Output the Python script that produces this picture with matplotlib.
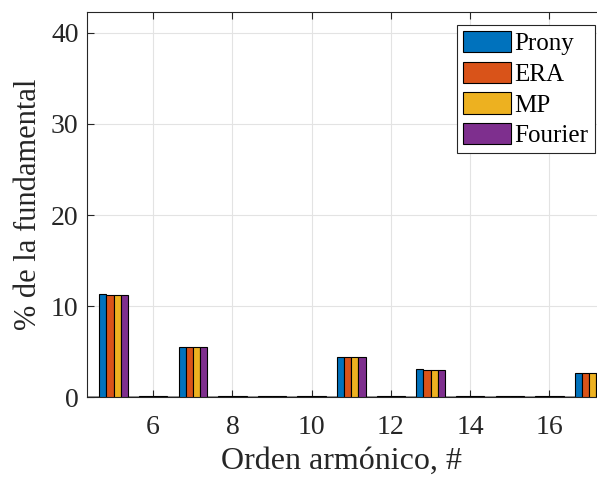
import matplotlib.pyplot as plt
import numpy as np

plt.rcParams['font.family'] = ['Liberation Serif', 'DejaVu Serif']
plt.rcParams['mathtext.fontset'] = 'stix'

orden = [5, 6, 7, 8, 9, 10, 11, 12, 13, 14, 15, 16, 17]
prony = [11.3, 0.1, 5.5, 0.1, 0.1, 0.1, 4.45, 0.1, 3.05, 0.1, 0.1, 0.1, 2.7]
era = [11.25, 0.1, 5.45, 0.1, 0.1, 0.1, 4.4, 0.1, 2.98, 0.1, 0.1, 0.1, 2.6]
mp = [11.25, 0.1, 5.45, 0.1, 0.1, 0.1, 4.4, 0.1, 2.98, 0.1, 0.1, 0.1, 2.6]
fourier = [11.25, 0.1, 5.45, 0.1, 0.1, 0.1, 4.35, 0.1, 2.95, 0.1, 0.1, 0.1, 2.6]

series = [('Prony', prony, '#0072BD'), ('ERA', era, '#D95319'),
          ('MP', mp, '#EDB120'), ('Fourier', fourier, '#7E2F8E')]

fig = plt.figure(figsize=(5.97, 4.79), dpi=100)
ax = fig.add_axes([0.1457, 0.171, 0.8543, 0.804])

x = np.array(orden)
w = 0.18
for i, (name, vals, col) in enumerate(series):
    ax.bar(x + (i - 1.5) * w, vals, width=w, color=col, edgecolor='black',
           linewidth=0.8, label=name, zorder=3)

ax.set_xlim(4.33, 17.2)
ax.set_ylim(0, 42.3)
ax.set_xticks([6, 8, 10, 12, 14, 16])
ax.set_yticks([0, 10, 20, 30, 40])
ax.grid(True, color='#e3e3e3', linewidth=0.8, zorder=0)
ax.tick_params(direction='in', labelsize=20, color='#262626', labelcolor='#262626',
               length=5, top=True, right=False)
ax.tick_params(axis='x', pad=13)
ax.tick_params(axis='y', pad=6)
for s in ['left', 'bottom', 'top']:
    ax.spines[s].set_color('#262626')
    ax.spines[s].set_linewidth(0.8)
ax.spines['right'].set_visible(False)
ax.axhline(0, color='#8a8a8a', linewidth=2.0, zorder=2)

ax.set_xlabel('Orden armónico, #', fontsize=23, labelpad=5, color='#262626')
ax.set_ylabel('% de la fundamental', fontsize=22, labelpad=6, color='#262626')

leg = ax.legend(loc='upper right', bbox_to_anchor=(0.996, 0.967),
                fontsize=18, fancybox=False, framealpha=1,
                edgecolor='#262626', handlelength=1.9, handleheight=0.95,
                handletextpad=0.15, borderpad=0.25, labelspacing=0.25,
                borderaxespad=0.0)
leg.get_frame().set_linewidth(0.8)

fig.savefig('out.png', dpi=100)
